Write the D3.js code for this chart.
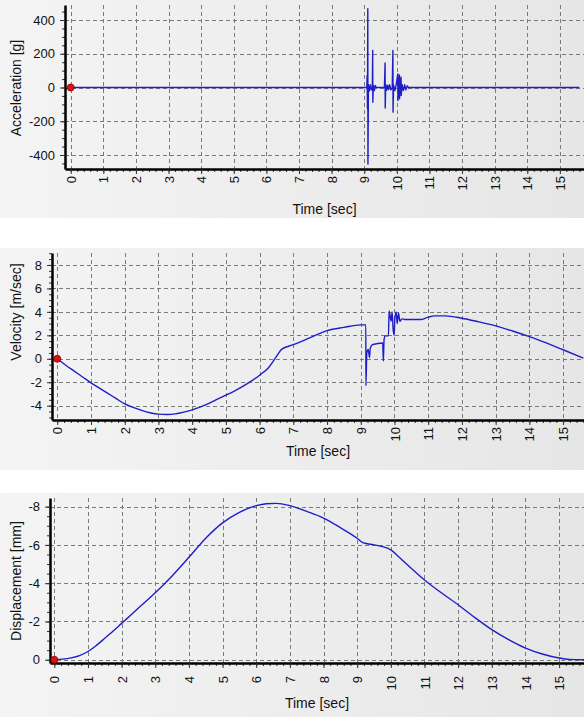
<!DOCTYPE html>
<html>
<head>
<meta charset="utf-8">
<script src="https://cdn.jsdelivr.net/npm/d3@7"></script>
<style>
	body { margin: 0; background: #fff; }
	svg { display: block; }
</style>
</head>
<body>
<script>
// values
const TIME_TICKS = [0, 1, 2, 3, 4, 5, 6, 7, 8, 9, 10, 11, 12, 13, 14, 15];
const ACC_TICKS = [-400, -200, 0, 200, 400];
const VEL_TICKS = [-4, -2, 0, 2, 4, 6, 8];
const DISP_TICKS = [-8, -6, -4, -2, 0];

// [time sec, acceleration g]
const ACC_DATA = [
	[0, 0], [9.08, 0], [9.09, 71], [9.1, -126], [9.11, 467], [9.115, -453], [9.13, 18], [9.16, -20],
	[9.19, 16], [9.22, -14], [9.25, 0], [9.26, 220], [9.265, -87], [9.28, 14], [9.31, -18], [9.34, 12],
	[9.37, 0], [9.62, 0], [9.64, 145], [9.645, -122], [9.66, 18], [9.69, -16], [9.72, 14], [9.75, -12],
	[9.78, 16], [9.82, -14], [9.86, 0], [9.88, 220], [9.885, -146], [9.9, 16], [9.94, -18], [9.98, 14],
	[10.03, 81], [10.035, -77], [10.06, 18], [10.08, 75], [10.085, -67], [10.1, 14], [10.13, 61],
	[10.135, -47], [10.16, 18], [10.2, -18], [10.24, 16], [10.28, -14], [10.32, 10], [10.36, 0], [15.6, 0]
];

// [time sec, velocity m/sec]
const VEL_DATA = [
	[0, 0], [0.25, -0.55], [0.5, -1.05], [0.75, -1.55], [1.0, -2.05], [1.25, -2.5], [1.5, -2.95],
	[1.75, -3.4], [2.0, -3.85], [2.25, -4.15], [2.5, -4.4], [2.75, -4.6], [3.0, -4.72], [3.25, -4.75],
	[3.5, -4.7], [3.75, -4.55], [4.0, -4.35], [4.25, -4.1], [4.5, -3.8], [4.75, -3.45], [5.0, -3.1],
	[5.25, -2.75], [5.5, -2.35], [5.75, -1.9], [6.0, -1.4], [6.25, -0.8], [6.5, 0.2], [6.65, 0.8],
	[7.0, 1.2], [7.5, 1.8], [8.0, 2.4], [8.5, 2.68], [9.0, 2.89], [9.15, 2.89], [9.152, -2.3],
	[9.18, 0.5], [9.22, 0.8], [9.26, 0.1], [9.28, 0.9], [9.35, 1.2], [9.5, 1.3], [9.65, 1.35],
	[9.67, -0.2], [9.69, 1.6], [9.72, 1.95], [9.82, 1.95], [9.84, 4.08], [9.9, 3.2], [9.93, 4.0],
	[9.96, 2.5], [9.99, 2.0], [10.01, 3.4], [10.05, 4.0], [10.08, 3.0], [10.12, 3.9], [10.16, 3.2],
	[10.22, 3.4], [10.3, 3.35], [10.8, 3.35], [11.0, 3.55], [11.2, 3.66], [11.5, 3.66], [12.0, 3.46],
	[12.5, 3.15], [13.0, 2.81], [13.5, 2.37], [14.0, 1.89], [14.5, 1.35], [15.0, 0.77], [15.6, 0.06]
];

// [time sec, displacement mm]
const DISP_DATA = [
	[0, 0], [0.25, -0.03], [0.5, -0.1], [0.75, -0.22], [1.0, -0.43], [1.25, -0.75], [1.5, -1.12],
	[1.75, -1.5], [2.0, -1.9], [2.5, -2.7], [3.0, -3.5], [3.5, -4.38], [4.0, -5.35], [4.5, -6.35],
	[5.0, -7.15], [5.5, -7.7], [6.0, -8.05], [6.3, -8.15], [6.6, -8.17], [7.0, -8.05], [7.5, -7.75],
	[8.0, -7.4], [8.5, -6.9], [9.0, -6.35], [9.17, -6.12], [9.5, -6.0], [9.9, -5.83], [10.0, -5.74],
	[10.25, -5.35], [10.5, -4.95], [11.0, -4.17], [11.5, -3.5], [12.0, -2.87], [12.5, -2.2],
	[13.0, -1.57], [13.5, -1.05], [14.0, -0.61], [14.5, -0.3], [15.0, -0.09], [15.3, -0.02], [15.74, 0]
];

const WIDTH = 584;
const HEIGHT = 717;
const FONT = "'Liberation Sans', Arial, sans-serif";
const LINE_COLOR = "#1e1ec8";

const svg = d3.select("body").append("svg")
	.attr("width", WIDTH)
	.attr("height", HEIGHT);

const grad = svg.append("defs").append("linearGradient")
	.attr("id", "bg")
	.attr("gradientUnits", "userSpaceOnUse")
	.attr("x1", 0).attr("x2", WIDTH)
	.attr("y1", 0).attr("y2", 0);
grad.append("stop").attr("offset", 0).attr("stop-color", "#f4f4f4");
grad.append("stop").attr("offset", 1).attr("stop-color", "#e6e6e6");

drawPanel({
	id: "acc", bgTop: 0, bgBottom: 218, left: 65, top: 5, bottom: 169,
	xDomain: [-0.175, 15.74], yDomain: [-483, 489],
	yTicks: ACC_TICKS, yMinor: 50, xLabelGap: 7, curve: d3.curveLinear,
	yTitle: "Acceleration [g]", yTitleY: 88, xTitleY: 209
}, ACC_DATA);

drawPanel({
	id: "vel", bgTop: 248, bgBottom: 470, left: 52, top: 253, bottom: 420,
	xDomain: [-0.157, 15.62], yDomain: [-5.22, 9.02],
	yTicks: VEL_TICKS, yMinor: 0.5, xLabelGap: 7, curve: d3.curveMonotoneX,
	yTitle: "Velocity [m/sec]", yTitleY: 312, xTitleY: 451
}, VEL_DATA);

drawPanel({
	id: "disp", bgTop: 493, bgBottom: 717, left: 50, top: 498, bottom: 663,
	xDomain: [-0.128, 15.74], yDomain: [0.17, -8.45],
	yTicks: DISP_TICKS, yMinor: 0.5, xLabelGap: 13, curve: d3.curveMonotoneX,
	yTitle: "Displacement [mm]", yTitleY: 581, xTitleY: 703
}, DISP_DATA);

function drawPanel(cfg, data) {
	const g = svg.append("g");

	g.append("rect")
		.attr("x", 0)
		.attr("y", cfg.bgTop)
		.attr("width", WIDTH)
		.attr("height", cfg.bgBottom - cfg.bgTop)
		.attr("fill", "url(#bg)");

	const x = d3.scaleLinear()
		.domain(cfg.xDomain)
		.range([cfg.left, WIDTH]);

	const y = d3.scaleLinear()
		.domain(cfg.yDomain)
		.range([cfg.bottom, cfg.top]);

	// dashed grid
	const grid = g.append("g")
		.attr("stroke", "#7a7a7a")
		.attr("stroke-width", 1)
		.attr("stroke-dasharray", "4,3");

	grid.selectAll(".v")
		.data(TIME_TICKS)
		.join("line")
		.attr("class", "v")
		.attr("x1", d => Math.round(x(d)) + 0.5)
		.attr("x2", d => Math.round(x(d)) + 0.5)
		.attr("y1", cfg.top)
		.attr("y2", cfg.bottom);

	grid.selectAll(".h")
		.data(cfg.yTicks)
		.join("line")
		.attr("class", "h")
		.attr("x1", cfg.left)
		.attr("x2", WIDTH)
		.attr("y1", d => Math.round(y(d)) + 0.5)
		.attr("y2", d => Math.round(y(d)) + 0.5);

	g.append("clipPath")
		.attr("id", "clip-" + cfg.id)
		.append("rect")
		.attr("x", cfg.left)
		.attr("y", cfg.top)
		.attr("width", WIDTH - cfg.left)
		.attr("height", cfg.bottom - cfg.top);

	g.append("path")
		.datum(data)
		.attr("fill", "none")
		.attr("stroke", LINE_COLOR)
		.attr("stroke-width", 1.4)
		.attr("stroke-linejoin", "round")
		.attr("clip-path", `url(#clip-${cfg.id})`)
		.attr("d", d3.line()
			.curve(cfg.curve)
			.x(d => x(d[0]))
			.y(d => y(d[1]))
		);

	// minor ticks
	const yLo = Math.min(...cfg.yDomain), yHi = Math.max(...cfg.yDomain);
	const yMinorTicks = d3.range(Math.ceil(yLo / cfg.yMinor) * cfg.yMinor, yHi, cfg.yMinor);
	const xMinorTicks = d3.range(0, 15.8, 0.2);

	g.append("g")
		.attr("transform", `translate(0,${cfg.bottom})`)
		.call(d3.axisBottom(x).tickValues(xMinorTicks).tickSize(3).tickSizeOuter(0).tickFormat(""))
		.call(s => s.select(".domain").remove());

	g.append("g")
		.attr("transform", `translate(${cfg.left},0)`)
		.call(d3.axisLeft(y).tickValues(yMinorTicks).tickSize(3).tickSizeOuter(0).tickFormat(""))
		.call(s => s.select(".domain").remove());

	// main axes
	const xAxisGroup = g.append("g")
		.attr("transform", `translate(0,${cfg.bottom})`)
		.call(d3.axisBottom(x)
			.tickValues(TIME_TICKS)
			.tickSize(5)
			.tickSizeOuter(0)
			.tickFormat(d => String(d)));

	xAxisGroup.selectAll(".tick text")
		.attr("transform", "rotate(-90)")
		.attr("text-anchor", "end")
		.attr("x", -cfg.xLabelGap)
		.attr("y", 0)
		.attr("dy", "0.35em");

	g.append("g")
		.attr("transform", `translate(${cfg.left},0)`)
		.call(d3.axisLeft(y)
			.tickValues(cfg.yTicks)
			.tickSize(5)
			.tickPadding(5)
			.tickSizeOuter(0)
			.tickFormat(d => String(d)));

	g.selectAll(".domain")
		.attr("stroke", "#000")
		.attr("stroke-width", 2.5);

	g.selectAll(".tick text")
		.attr("fill", "#111")
		.style("font-family", FONT)
		.style("font-size", "13px");

	g.selectAll(".tick line")
		.attr("stroke", "#333");

	// start marker
	g.append("circle")
		.attr("cx", x(data[0][0]))
		.attr("cy", y(data[0][1]))
		.attr("r", 3.5)
		.attr("fill", "#e01010")
		.attr("stroke", "#800000")
		.attr("stroke-width", 0.8);

	g.append("text")
		.attr("x", (cfg.left + WIDTH) / 2)
		.attr("y", cfg.xTitleY)
		.attr("text-anchor", "middle")
		.attr("dominant-baseline", "central")
		.style("font-family", FONT)
		.style("font-size", "14px")
		.attr("fill", "#111")
		.text("Time [sec]");

	g.append("text")
		.attr("transform", `translate(16,${cfg.yTitleY}) rotate(-90)`)
		.attr("text-anchor", "middle")
		.attr("dominant-baseline", "central")
		.style("font-family", FONT)
		.style("font-size", "14px")
		.attr("fill", "#111")
		.text(cfg.yTitle);
}
</script>
</body>
</html>
